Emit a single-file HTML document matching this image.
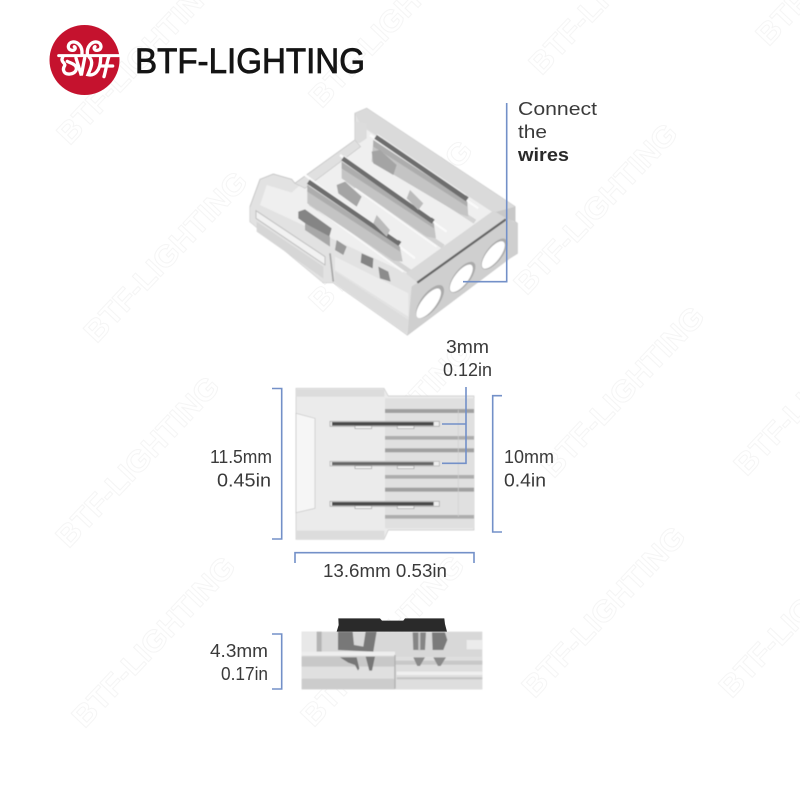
<!DOCTYPE html>
<html><head><meta charset="utf-8"><style>
html,body{margin:0;padding:0;background:#fff}
svg{display:block}
.l{font-family:"Liberation Sans",sans-serif;font-size:18px;fill:#3a3a3a}
.w{font-family:"Liberation Sans",sans-serif;font-size:30px;font-weight:bold;fill:none;stroke:#f5f5f5;stroke-width:1;text-anchor:middle}
.b{fill:none;stroke:#7390c8;stroke-width:1.6}
</style></head><body>
<svg width="800" height="800" viewBox="0 0 800 800" xmlns="http://www.w3.org/2000/svg">
<defs><filter id="s" x="-5%" y="-5%" width="110%" height="110%"><feGaussianBlur stdDeviation="1.6"/></filter></defs>
<rect width="800" height="800" fill="#fff"/>
<!-- watermarks -->
<g>
<text class="w" textLength="222" lengthAdjust="spacingAndGlyphs" transform="translate(138,58) rotate(-46.5)" dy="11">BTF-LIGHTING</text>
<text class="w" textLength="222" lengthAdjust="spacingAndGlyphs" transform="translate(165,256) rotate(-46.5)" dy="11">BTF-LIGHTING</text>
<text class="w" textLength="222" lengthAdjust="spacingAndGlyphs" transform="translate(137,461) rotate(-46.5)" dy="11">BTF-LIGHTING</text>
<text class="w" textLength="222" lengthAdjust="spacingAndGlyphs" transform="translate(153,641) rotate(-46.5)" dy="11">BTF-LIGHTING</text>
<text class="w" textLength="222" lengthAdjust="spacingAndGlyphs" transform="translate(390,21) rotate(-46.5)" dy="11">BTF-LIGHTING</text>
<text class="w" textLength="222" lengthAdjust="spacingAndGlyphs" transform="translate(390,225) rotate(-46.5)" dy="11">BTF-LIGHTING</text>
<text class="w" textLength="222" lengthAdjust="spacingAndGlyphs" transform="translate(390,426) rotate(-46.5)" dy="11">BTF-LIGHTING</text>
<text class="w" textLength="222" lengthAdjust="spacingAndGlyphs" transform="translate(382,640) rotate(-46.5)" dy="11">BTF-LIGHTING</text>
<text class="w" textLength="222" lengthAdjust="spacingAndGlyphs" transform="translate(610,-12) rotate(-46.5)" dy="11">BTF-LIGHTING</text>
<text class="w" textLength="222" lengthAdjust="spacingAndGlyphs" transform="translate(595,208) rotate(-46.5)" dy="11">BTF-LIGHTING</text>
<text class="w" textLength="222" lengthAdjust="spacingAndGlyphs" transform="translate(622,391) rotate(-46.5)" dy="11">BTF-LIGHTING</text>
<text class="w" textLength="222" lengthAdjust="spacingAndGlyphs" transform="translate(603,611) rotate(-46.5)" dy="11">BTF-LIGHTING</text>
<text class="w" textLength="222" lengthAdjust="spacingAndGlyphs" transform="translate(837,-41) rotate(-46.5)" dy="11">BTF-LIGHTING</text>
<text class="w" textLength="222" lengthAdjust="spacingAndGlyphs" transform="translate(815,389) rotate(-46.5)" dy="11">BTF-LIGHTING</text>
<text class="w" textLength="222" lengthAdjust="spacingAndGlyphs" transform="translate(800,611) rotate(-46.5)" dy="11">BTF-LIGHTING</text>
</g>
<!-- logo -->
<circle cx="84.5" cy="60" r="35" fill="#c5122e"/>
<g transform="translate(40,20) scale(.3333)" fill="none" stroke="#fff" stroke-width="10" stroke-linecap="round">
<path d="M126,102 C128,78 112,64 98,66 C82,68 80,90 96,91 C106,92 108,82 103,80"/>
<path d="M142,102 C140,78 156,64 170,66 C186,68 188,90 172,91 C162,92 160,82 165,80"/>
<path d="M56,107 H236" stroke-width="9"/>
<path d="M68,112 C60,125 78,130 74,137 C66,150 72,164 90,162 C106,160 114,148 106,137 C100,130 88,128 82,124"/>
<path d="M108,114 L124,166 L134,114"/>
<path d="M148,112 C162,125 152,145 144,164 C162,168 182,155 182,112"/>
<path d="M206,112 C200,130 198,150 192,170 M182,138 H218"/>
</g>
<text x="135" y="73" textLength="230" lengthAdjust="spacingAndGlyphs" style="font-family:'Liberation Sans',sans-serif;font-size:35px" fill="#141414" stroke="#141414" stroke-width=".8">BTF-LIGHTING</text>

<!-- isometric view -->
<g transform="translate(230,90) scale(.3333)" filter="url(#s)">
<polygon points="60,350 90,268 130,252 185,268 195,280 375,150 375,70 410,55 855,350 855,395 862,400 862,490 838,505 532,735 505,715 310,578 280,578 60,395" fill="#e2e2e2" stroke="#c8c8c8" stroke-width="3"/>
<polygon points="375,70 410,55 855,350 790,368 392,105" fill="#dadada"/>
<polygon points="790,368 855,350 855,395 825,385" fill="#c8c8c8"/>
<polygon points="392,108 790,368 530,550 90,345 110,285 185,308 205,290 388,155" fill="#efefef"/>
<polygon points="195,280 375,150 392,170 225,295" fill="#e0e0e0" stroke="#c8c8c8" stroke-width="2"/>
<polygon points="375,95 410,100 410,145 388,160 375,150" fill="#dcdcdc"/>
<!-- channels -->
<g fill="none">
<path d="M225,255 L555,505 M330,195 L650,425 M420,135 L745,355" stroke="#fafafa" stroke-width="7"/>
<path d="M240,340 L540,545 M350,270 L640,470 M450,210 L735,395" stroke="#d4d4d4" stroke-width="14"/>
<path d="M265,360 L520,545 M375,295 L620,470" stroke="#f8f8f8" stroke-width="6"/>
</g>
<!-- side -->
<polygon points="60,350 85,345 300,490 540,600 532,735 505,715 310,578 280,578 60,395" fill="#e2e2e2"/>
<polygon points="78,362 285,500 285,525 78,385" fill="#f2f2f2" stroke="#c0c0c0" stroke-width="3"/>
<polygon points="80,395 280,530 280,565 80,425" fill="#d6d6d6"/>
<polygon points="315,500 535,610 535,680 315,540" fill="#ececec"/>
<polygon points="315,545 535,690 530,730 315,578" fill="#dcdcdc"/>
<path d="M300,490 L310,575" stroke="#a5a5a5" stroke-width="5"/>
<!-- blades -->
<polygon points="232,285 510,470 518,515 490,512 232,340" fill="#c4c4c4"/>
<polygon points="335,215 612,400 618,445 590,440 335,265" fill="#c4c4c4"/>
<polygon points="430,150 712,335 715,380 690,372 425,215" fill="#c4c4c4"/>
<polygon points="232,285 510,470 510,485 232,305" fill="#adadad"/>
<polygon points="335,215 612,400 612,415 335,235" fill="#adadad"/>
<polygon points="430,150 712,335 712,350 430,170" fill="#adadad"/>
<path d="M235,275 L510,462" stroke="#6e6e6e" stroke-width="15"/>
<path d="M338,205 L610,395" stroke="#6e6e6e" stroke-width="15"/>
<path d="M437,140 L712,328" stroke="#6e6e6e" stroke-width="15"/>
<path d="M240,268 L505,450 M342,198 L605,382 M441,133 L708,315" stroke="#f4f4f4" stroke-width="3"/>
<polygon points="205,365 225,358 305,415 295,450 205,385" fill="#858585"/>
<polygon points="225,400 300,440 300,470 225,420" fill="#a8a8a8"/>
<polygon points="320,285 345,275 395,320 380,350 325,310" fill="#a4a4a4"/>
<polygon points="425,185 450,180 500,225 490,255 430,220" fill="#a4a4a4"/>
<polygon points="395,490 430,505 428,535 392,518" fill="#848484"/>
<polygon points="445,530 475,545 482,575 450,565" fill="#8c8c8c"/>
<polygon points="320,450 350,470 340,495 315,480" fill="#9a9a9a"/>
<polygon points="440,375 480,420 470,440 430,400" fill="#bbb"/>
<polygon points="540,300 580,340 565,360 530,325" fill="#bbb"/>
<!-- front face -->
<polygon points="528,550 790,362 830,385 562,578" fill="#d8d8d8"/>
<polygon points="545,590 830,385 862,400 862,490 838,505 532,735" fill="#cfcfcf"/>
<ellipse cx="600" cy="635" rx="26" ry="60" transform="rotate(38 600 635)" fill="#aaa"/>
<ellipse cx="697" cy="562" rx="24" ry="56" transform="rotate(38 697 562)" fill="#aaa"/>
<ellipse cx="793" cy="492" rx="24" ry="56" transform="rotate(38 793 492)" fill="#aaa"/>
<ellipse cx="596" cy="640" rx="21" ry="54" transform="rotate(38 596 640)" fill="#fff"/>
<ellipse cx="694" cy="565" rx="20" ry="50" transform="rotate(38 694 565)" fill="#fff"/>
<ellipse cx="790" cy="495" rx="20" ry="50" transform="rotate(38 790 495)" fill="#fff"/>
<path d="M562,578 L828,388" stroke="#666" stroke-width="7"/>
</g>

<!-- top view -->
<g transform="translate(270,330) scale(.3333)" filter="url(#s)">
<polygon points="78,175 342,175 355,198 612,198 612,600 355,600 342,628 78,628" fill="#ebebeb" stroke="#c8c8c8" stroke-width="2"/>
<rect x="78" y="178" width="265" height="22" fill="#dcdcdc"/>
<rect x="78" y="602" width="265" height="24" fill="#dcdcdc"/>
<polygon points="78,250 135,265 135,535 78,548" fill="#f6f6f6" stroke="#c4c4c4" stroke-width="2"/>
<rect x="345" y="205" width="267" height="390" fill="#e0e0e0"/>
<rect x="345" y="237" width="267" height="12" fill="#a0a0a0"/>
<rect x="345" y="318" width="267" height="11" fill="#adadad"/>
<rect x="345" y="355" width="267" height="12" fill="#a0a0a0"/>
<rect x="345" y="435" width="267" height="11" fill="#adadad"/>
<rect x="345" y="473" width="267" height="12" fill="#a0a0a0"/>
<rect x="345" y="555" width="267" height="11" fill="#adadad"/>
<rect x="180" y="274" width="328" height="15" fill="#eee" stroke="#999" stroke-width="2"/>
<rect x="180" y="394" width="328" height="14" fill="#eee" stroke="#aaa" stroke-width="2"/>
<rect x="180" y="514" width="328" height="15" fill="#eee" stroke="#999" stroke-width="2"/>
<rect x="186" y="276" width="305" height="11" fill="#4a4a4a"/>
<rect x="186" y="396" width="305" height="10" fill="#666"/>
<rect x="186" y="516" width="305" height="11" fill="#4a4a4a"/>
<g fill="#f4f4f4" stroke="#999" stroke-width="2">
<rect x="255" y="288" width="50" height="8"/><rect x="382" y="288" width="50" height="8"/>
<rect x="255" y="408" width="50" height="8"/><rect x="382" y="408" width="50" height="8"/>
<rect x="255" y="528" width="50" height="8"/><rect x="382" y="528" width="50" height="8"/>
</g>
<path d="M565,240 V560" stroke="#cfcfcf" stroke-width="2"/>
</g>

<!-- side view -->
<g transform="translate(200,600) scale(.3333)" filter="url(#s)">
<rect x="305" y="95" width="542" height="173" fill="#d8d8d8"/>
<rect x="305" y="95" width="50" height="60" fill="#e8e8e8"/>
<rect x="350" y="95" width="15" height="60" fill="#b4b4b4"/>
<rect x="305" y="155" width="280" height="12" fill="#eeeeee"/>
<rect x="305" y="170" width="280" height="30" fill="#c8c8c8"/>
<rect x="305" y="200" width="280" height="35" fill="#e0e0e0"/>
<rect x="305" y="237" width="280" height="31" fill="#cccccc"/>
<rect x="585" y="170" width="262" height="98" fill="#dedede"/>
<rect x="585" y="182" width="262" height="12" fill="#c8c8c8"/>
<rect x="590" y="215" width="257" height="10" fill="#f0f0f0"/>
<rect x="590" y="232" width="257" height="6" fill="#c4c4c4"/>
<rect x="800" y="120" width="47" height="28" fill="#ececec"/>
<polygon points="414,95 458,95 462,135 490,140 497,95 530,95 520,155 414,150" fill="#787878"/>
<polygon points="638,97 678,97 675,150 640,150" fill="#858585"/>
<rect x="655" y="97" width="6" height="55" fill="#c8c8c8"/>
<path d="M696,97 H735 L742,120 L730,150 H698 Z" fill="#7a7a7a"/>
<polygon points="420,172 470,172 478,205 474,212 465,195 445,188" fill="#767676"/>
<polygon points="497,170 525,170 516,212 508,212" fill="#777"/>
<polygon points="640,172 675,172 660,198 652,198" fill="#8a8a8a"/>
<polygon points="700,172 738,172 722,198 714,198" fill="#8a8a8a"/>
<path d="M585,165 V266" stroke="#b0b0b0" stroke-width="4"/>
</g>
<g transform="translate(200,600) scale(.3333)">
<polygon points="415,55 540,55 546,62 610,62 615,55 733,55 735,72 741,95 410,95 416,75" fill="#2a2a2a"/>
</g>

<!-- connector lines -->
<path class="b" d="M506.7,103 V281.7 H463"/>
<path class="b" d="M466,387 V463.3 H442 M466,424 H442"/>
<path class="b" d="M272,388.5 H281.7 V539 H272"/>
<path class="b" d="M502,395.7 H492.7 V532 H502"/>
<path class="b" d="M295,563 V552.7 H474 V563"/>
<path class="b" d="M272,634 H281.7 V689 H272"/>

<!-- labels -->
<text class="l" x="518" y="115" textLength="79" lengthAdjust="spacingAndGlyphs">Connect</text>
<text class="l" x="518" y="138" textLength="29" lengthAdjust="spacingAndGlyphs">the</text>
<text class="l" x="518" y="161" textLength="51" lengthAdjust="spacingAndGlyphs" style="font-weight:bold;fill:#2a2a2a">wires</text>
<text class="l" x="446" y="353" textLength="43" lengthAdjust="spacingAndGlyphs">3mm</text>
<text class="l" x="443" y="376" textLength="49" lengthAdjust="spacingAndGlyphs">0.12in</text>
<text class="l" x="210" y="463" textLength="62" lengthAdjust="spacingAndGlyphs">11.5mm</text>
<text class="l" x="217" y="486.5" textLength="54" lengthAdjust="spacingAndGlyphs">0.45in</text>
<text class="l" x="504" y="463" textLength="50" lengthAdjust="spacingAndGlyphs">10mm</text>
<text class="l" x="504" y="486.5" textLength="42" lengthAdjust="spacingAndGlyphs">0.4in</text>
<text class="l" x="323" y="577" textLength="124" lengthAdjust="spacingAndGlyphs">13.6mm 0.53in</text>
<text class="l" x="210" y="657" textLength="58" lengthAdjust="spacingAndGlyphs">4.3mm</text>
<text class="l" x="221" y="680" textLength="47" lengthAdjust="spacingAndGlyphs">0.17in</text>
</svg>
</body></html>
